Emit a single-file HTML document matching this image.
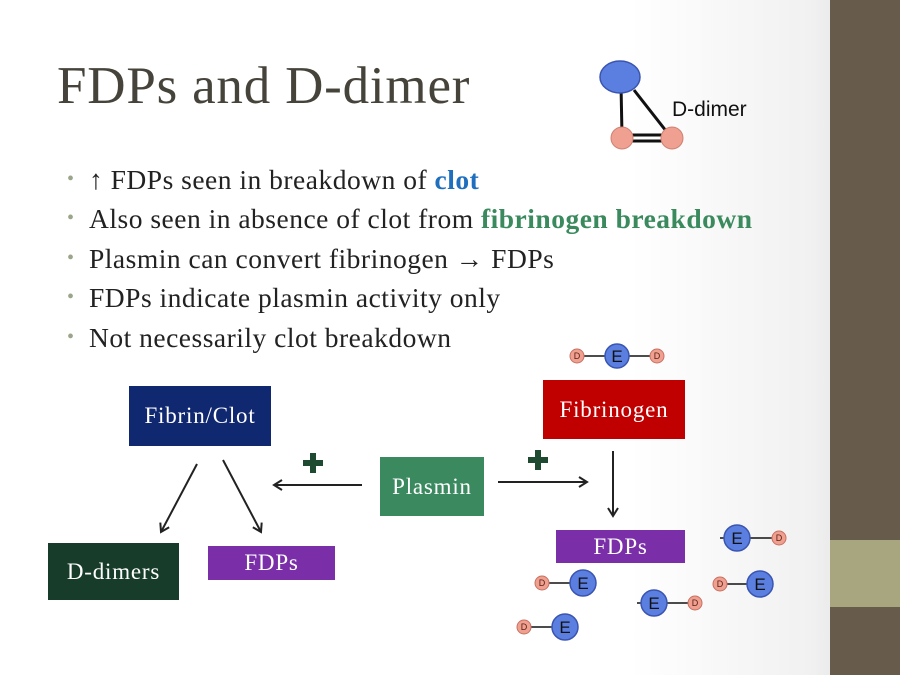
<!DOCTYPE html>
<html><head><meta charset="utf-8"><style>
html,body{margin:0;padding:0}
body{width:900px;height:675px;position:relative;overflow:hidden;background:linear-gradient(90deg,#fff 0,#fff 70%,#f1f1f1 90%,#ececec 92%);font-family:"Liberation Serif",serif}
.t{position:absolute;left:57px;top:56px;font-size:53px;color:#46443a;letter-spacing:0.8px}
.b{position:absolute;left:89px;font-size:27.5px;color:#222;white-space:nowrap;letter-spacing:0.5px}
.b:before{content:"•";position:absolute;left:-22px;color:#9aa58a;font-size:20px;top:4px}
.box{position:absolute;color:#fff;font-size:23px;letter-spacing:0.8px;display:flex;align-items:center;justify-content:center;box-sizing:border-box}
</style></head><body>
<div style="position:absolute;left:830px;top:0;width:70px;height:675px;background:#675c4b"></div>
<div style="position:absolute;left:830px;top:540px;width:70px;height:67px;background:#a8a67f"></div>
<div class="t">FDPs and D-dimer</div>
<div class="b" style="top:164px">↑ FDPs seen in breakdown of <b style="color:#1f6fbf">clot</b></div>
<div class="b" style="top:203px">Also seen in absence of clot from <b style="color:#3a8a5e">fibrinogen breakdown</b></div>
<div class="b" style="top:243px">Plasmin can convert fibrinogen → FDPs</div>
<div class="b" style="top:282px">FDPs indicate plasmin activity only</div>
<div class="b" style="top:322px">Not necessarily clot breakdown</div>

<div class="box" style="left:129px;top:386px;width:142px;height:60px;background:#10286f">Fibrin/Clot</div>
<div class="box" style="left:48px;top:543px;width:131px;height:57px;background:#173d2a">D-dimers</div>
<div class="box" style="left:208px;top:546px;width:127px;height:34px;background:#7a2fa8">FDPs</div>
<div class="box" style="left:380px;top:457px;width:104px;height:59px;background:#3b8a5f">Plasmin</div>
<div class="box" style="left:543px;top:380px;width:142px;height:59px;background:#c00000">Fibrinogen</div>
<div class="box" style="left:556px;top:530px;width:129px;height:33px;background:#7a2fa8">FDPs</div>

<svg width="900" height="675" style="position:absolute;left:0;top:0" font-family="Liberation Sans,sans-serif">
<defs><marker id="a" markerWidth="12" markerHeight="12" refX="9" refY="6" orient="auto" markerUnits="userSpaceOnUse"><path d="M1,1 L9,6 L1,11" fill="none" stroke="#222" stroke-width="2"/></marker></defs>
<g stroke="#222" stroke-width="2" fill="none" marker-end="url(#a)">
<line x1="197" y1="464" x2="161" y2="532"/>
<line x1="223" y1="460" x2="261" y2="532"/>
<line x1="362" y1="485" x2="274" y2="485"/>
<line x1="498" y1="482" x2="587" y2="482"/>
<line x1="613" y1="451" x2="613" y2="516"/>
</g>
<g fill="#1d4a30"><rect x="303" y="460" width="20" height="6"/><rect x="310" y="453" width="6" height="20"/>
<rect x="528" y="457" width="20" height="6"/><rect x="535" y="450" width="6" height="20"/></g>
<g stroke="#111" stroke-width="3"><line x1="621" y1="85" x2="622" y2="135"/><line x1="634" y1="90" x2="670" y2="136"/>
<line x1="628" y1="135" x2="668" y2="135"/><line x1="628" y1="141" x2="668" y2="141"/></g>
<ellipse cx="620" cy="77" rx="20" ry="16" fill="#5b7fe0" stroke="#3a55b0" stroke-width="1.5"/>
<circle cx="622" cy="138" r="11" fill="#f0a090" stroke="#d08070"/>
<circle cx="672" cy="138" r="11" fill="#f0a090" stroke="#d08070"/>
<text x="672" y="116" font-size="21" fill="#111">D-dimer</text>
<g stroke="#111" stroke-width="1.5">
<line x1="577" y1="356" x2="657" y2="356"/>
<line x1="720" y1="538" x2="779" y2="538"/>
<line x1="542" y1="583" x2="595" y2="583"/>
<line x1="637" y1="603" x2="695" y2="603"/>
<line x1="720" y1="584" x2="773" y2="584"/>
<line x1="524" y1="627" x2="578" y2="627"/>
</g>
<g font-size="9" text-anchor="middle" fill="#5a2010">
<g fill="#f0a090" stroke="#c87060"><circle cx="577" cy="356" r="7"/><circle cx="657" cy="356" r="7"/><circle cx="779" cy="538" r="7"/><circle cx="542" cy="583" r="7"/><circle cx="695" cy="603" r="7"/><circle cx="720" cy="584" r="7"/><circle cx="524" cy="627" r="7"/></g>
<text x="577" y="359">D</text><text x="657" y="359">D</text><text x="779" y="541">D</text><text x="542" y="586">D</text><text x="695" y="606">D</text><text x="720" y="587">D</text><text x="524" y="630">D</text>
</g>
<g fill="#5b7fe0" stroke="#3a55b0" stroke-width="1.5"><circle cx="617" cy="356" r="12"/><circle cx="737" cy="538" r="13"/><circle cx="583" cy="583" r="13"/><circle cx="654" cy="603" r="13"/><circle cx="760" cy="584" r="13"/><circle cx="565" cy="627" r="13"/></g>
<g font-size="17" text-anchor="middle" fill="#111">
<text x="617" y="362">E</text><text x="737" y="544">E</text><text x="583" y="589">E</text><text x="654" y="609">E</text><text x="760" y="590">E</text><text x="565" y="633">E</text></g>
</svg>
</body></html>
